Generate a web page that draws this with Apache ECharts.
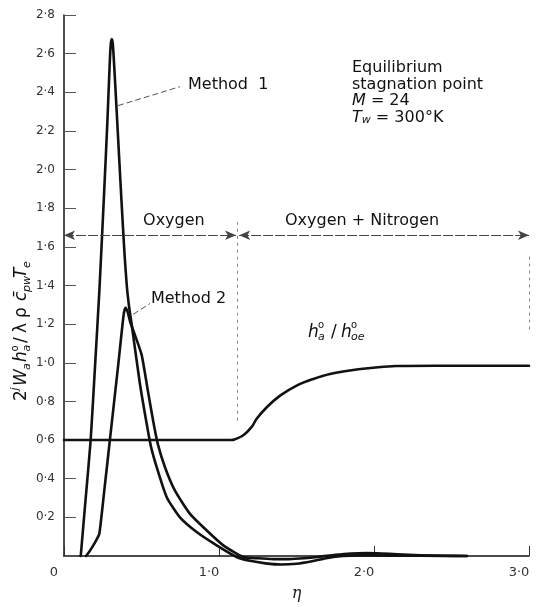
<!DOCTYPE html>
<html>
<head>
<meta charset="utf-8">
<script src="https://cdn.jsdelivr.net/npm/echarts@6/dist/echarts.min.js"></script>
<style>
  html, body { margin: 0; padding: 0; background: #fff; }
  #chart { width: 538px; height: 607px; }
</style>
</head>
<body>
<div id="chart"></div>
<script>
// Method 1: atom production rate, equilibrium stagnation point
const etaM1 = [0.108, 0.14, 0.172, 0.2, 0.229, 0.26, 0.28, 0.295, 0.302, 0.308, 0.315, 0.325, 0.34, 0.37, 0.39, 0.405, 0.42, 0.437, 0.49, 0.53, 0.56, 0.598, 0.663, 0.748, 0.856, 0.985, 1.114, 1.2, 1.3, 1.4, 1.5, 1.6, 1.7, 1.8, 1.9, 2.0, 2.1, 2.3, 2.6];
const valM1 = [0, 0.3, 0.6, 0.98, 1.385, 1.9, 2.25, 2.55, 2.65, 2.676, 2.65, 2.52, 2.3, 1.85, 1.57, 1.40, 1.29, 1.196, 0.89, 0.70, 0.57, 0.46, 0.304, 0.2, 0.124, 0.055, -0.005, -0.025, -0.038, -0.044, -0.04, -0.027, -0.01, 0.0, 0.003, 0.003, 0.002, 0.001, 0];

// Method 2
const etaM2 = [0.142, 0.165, 0.189, 0.21, 0.228, 0.26, 0.297, 0.35, 0.375, 0.387, 0.397, 0.41, 0.426, 0.458, 0.501, 0.54, 0.575, 0.605, 0.652, 0.716, 0.813, 0.921, 1.028, 1.157, 1.25, 1.35, 1.45, 1.55, 1.65, 1.75, 1.85, 1.95, 2.05, 2.15, 2.3, 2.45, 2.6];
const valM2 = [0, 0.025, 0.055, 0.085, 0.115, 0.34, 0.607, 0.99, 1.18, 1.26, 1.285, 1.265, 1.215, 1.143, 1.041, 0.86, 0.70, 0.58, 0.458, 0.338, 0.218, 0.132, 0.055, -0.005, -0.012, -0.016, -0.016, -0.012, -0.004, 0.006, 0.013, 0.015, 0.013, 0.009, 0.004, 0.001, 0];

// Enthalpy ratio h_a / h_oe
const etaH = [0, 1.08, 1.1, 1.157, 1.211, 1.243, 1.308, 1.394, 1.501, 1.608, 1.716, 1.866, 1.995, 2.14, 2.4, 3.0];
const valH = [0.6, 0.6, 0.603, 0.625, 0.668, 0.71, 0.77, 0.83, 0.882, 0.916, 0.942, 0.963, 0.974, 0.983, 0.985, 0.985];

// Region markers
const regionLevel = 1.66;   // level of the Oxygen / Oxygen + Nitrogen arrows
const regionSplit = 1.12;   // eta where nitrogen starts to dissociate

const xTickLabels = { 0: '0', 1: '1·0', 2: '2·0', 3: '3·0' };

const zip = (a, b) => a.map((x, i) => [x, b[i]]);
const FONT = 'DejaVu Sans';
const INK = '#111';

const curveStyle = { color: INK, width: 2.6, join: 'round', cap: 'round' };
const thinDash = { type: [6, 3], width: 1, color: '#555' };
const dotted = { type: [3, 4], width: 1, color: '#888' };

const chart = echarts.init(document.getElementById('chart'), null, { renderer: 'canvas' });

chart.setOption({
  animation: false,
  backgroundColor: '#fff',
  grid: { left: 64, right: 9, top: 15, bottom: 48 },
  xAxis: {
    type: 'value', min: 0, max: 3, interval: 1,
    axisLine: { lineStyle: { color: INK, width: 1.5 } },
    axisTick: { inside: true, length: 10, lineStyle: { color: '#333' } },
    splitLine: { show: false },
    axisLabel: {
      formatter: v => xTickLabels[Math.round(v)] || '',
      color: '#333', fontFamily: FONT, fontSize: 13, margin: 10,
      padding: [0, 20, 0, 0]
    },
    name: 'η', nameLocation: 'middle', nameGap: 30,
    nameTextStyle: { fontStyle: 'italic', fontSize: 16, fontFamily: 'DejaVu Serif', color: '#222' }
  },
  yAxis: {
    type: 'value', min: 0, max: 2.8, interval: 0.2,
    axisLine: { show: true, lineStyle: { color: INK, width: 1.5 } },
    axisTick: { show: true, inside: true, length: 12, lineStyle: { color: '#555' } },
    splitLine: { show: false },
    axisLabel: {
      formatter: v => (v < 0.01 ? '' : v.toFixed(1).replace('.', '·')),
      color: '#333', fontFamily: FONT, fontSize: 12, margin: 9
    }
  },
  series: [
    {
      name: 'Method 1', type: 'line', data: zip(etaM1, valM1),
      symbol: 'none', smooth: 0.2, clip: false,
      lineStyle: curveStyle,
      markLine: {
        silent: true, symbol: 'none', label: { show: false },
        lineStyle: thinDash,
        data: [[{ coord: [0.348, 2.331] }, { coord: [0.748, 2.429] }]]
      }
    },
    {
      name: 'Method 2', type: 'line', data: zip(etaM2, valM2),
      symbol: 'none', smooth: 0.2, clip: false,
      lineStyle: curveStyle,
      markLine: {
        silent: true, symbol: 'none', label: { show: false },
        lineStyle: thinDash,
        data: [[{ coord: [0.447, 1.251] }, { coord: [0.555, 1.307] }]]
      }
    },
    {
      name: 'h ratio', type: 'line', data: zip(etaH, valH),
      symbol: 'none', smooth: 0.35, clip: false,
      lineStyle: curveStyle,
      markLine: {
        silent: true, label: { show: false },
        symbol: 'none',
        lineStyle: { type: [10, 2], width: 1, color: '#444' },
        data: [
          [{ coord: [0, regionLevel], symbol: 'arrow', symbolSize: [7, 11] },
           { coord: [regionSplit - 0.01, regionLevel], symbol: 'arrow', symbolSize: [7, 11] }],
          [{ coord: [regionSplit + 0.01, regionLevel], symbol: 'arrow', symbolSize: [7, 11] },
           { coord: [3, regionLevel], symbol: 'arrow', symbolSize: [7, 11] }],
          [{ coord: [regionSplit, 1.73], lineStyle: dotted }, { coord: [regionSplit, 0.68] }],
          [{ coord: [3, 1.55], lineStyle: dotted }, { coord: [3, 1.17] }]
        ]
      }
    }
  ]
});

const px = (x, y) => chart.convertToPixel({ gridIndex: 0 }, [x, y]);

function txt(text, x, y, size, italic, extra) {
  return {
    type: 'text', x, y,
    style: Object.assign({
      text, fontSize: size, fontFamily: FONT,
      fontStyle: italic ? 'italic' : 'normal',
      fill: INK, align: 'left', verticalAlign: 'middle'
    }, extra || {})
  };
}

// Build a formula from [text, dx, dy, size, italic] pieces
function formula(pieces) {
  return pieces.map(p => txt(p[0], p[1], p[2], p[3], p[4]));
}

const m1 = px(0.80, 2.44);
const m2 = px(0.561, 1.333);
const oxy = px(0.51, 1.734);
const oxyN = px(1.426, 1.734);
const note = px(1.858, 2.568);
const hLab = px(1.574, 1.158);

chart.setOption({
  graphic: [
    txt('Method  1', m1[0], m1[1], 16, false),
    txt('Method 2', m2[0], m2[1], 16, false),
    txt('Oxygen', oxy[0], oxy[1], 16, false),
    txt('Oxygen + Nitrogen', oxyN[0], oxyN[1], 16, false),
    {
      type: 'text', x: note[0], y: note[1],
      style: {
        text: 'Equilibrium\nstagnation point\n{i|M} = 24\n{i|T}{s|w} = 300°K',
        fontSize: 16, fontFamily: FONT, fill: INK, lineHeight: 16.5,
        align: 'left', verticalAlign: 'top',
        rich: {
          i: { fontStyle: 'italic', fontSize: 16, fontFamily: FONT, fill: INK, lineHeight: 16.5 },
          s: { fontStyle: 'italic', fontSize: 11, fontFamily: FONT, fill: INK, lineHeight: 10, verticalAlign: 'bottom' }
        }
      }
    },
    {
      type: 'group', x: hLab[0], y: hLab[1],
      children: formula([
        ['h', 0, 0, 17, true], ['o', 10, -7, 10, false], ['a', 10, 5, 11, true],
        ['/', 23, 0, 17, false],
        ['h', 33, 0, 17, true], ['o', 43, -7, 10, false], ['oe', 43, 5, 11, true]
      ])
    },
    {
      type: 'group', x: 22, y: 401, rotation: Math.PI / 2,
      children: formula([
        ['2', 0, 0, 17, false], ['j', 10.5, -7, 11, true],
        ['W', 15, 0, 17, true], ['a', 31, 5, 11, true],
        ['h', 39, 0, 17, true], ['o', 49.5, -7, 10, false], ['a', 49.5, 5, 11, true],
        ['/', 58, 0, 17, false],
        ['λ', 68, 0, 17, false],
        ['ρ', 83, 0, 17, false],
        ['c̄', 100, 0, 17, true], ['pw', 109, 5, 11, true],
        ['T', 123, 0, 17, true], ['e', 133, 5, 11, true]
      ])
    }
  ]
});
</script>
</body>
</html>
